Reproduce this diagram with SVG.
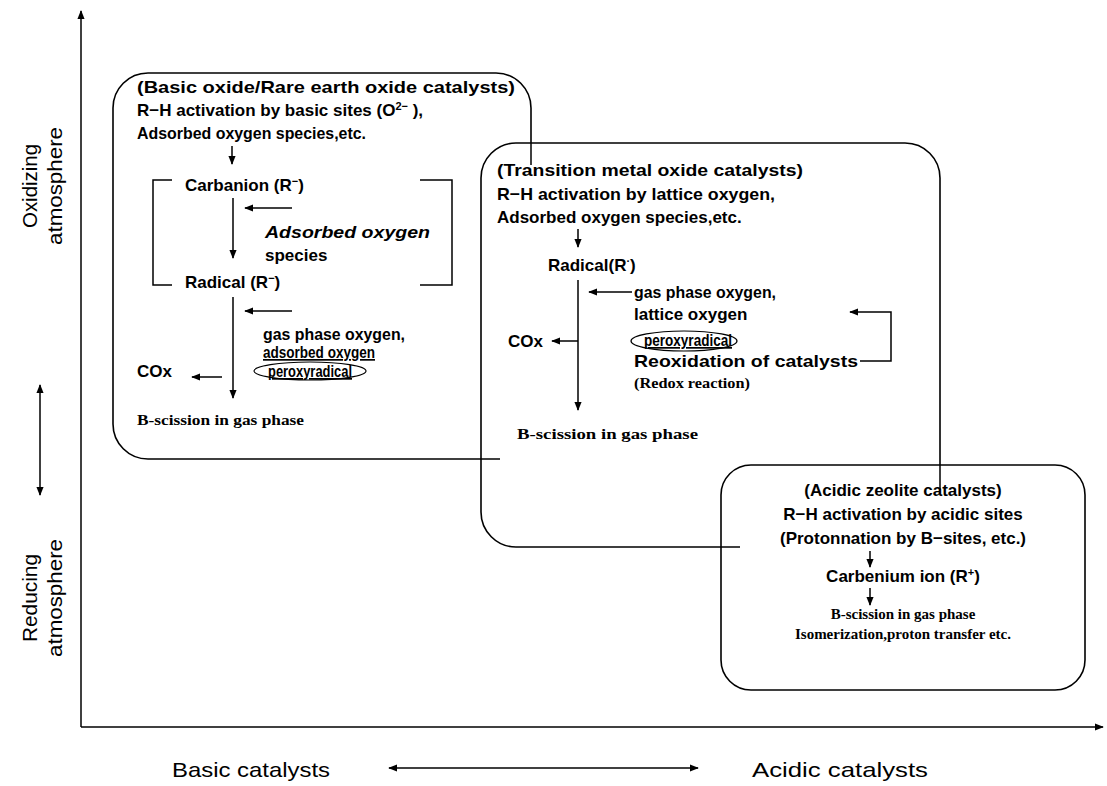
<svg xmlns="http://www.w3.org/2000/svg" width="1107" height="786" viewBox="0 0 1107 786">
<defs>
<marker id="ah" viewBox="0 0 10 10" refX="9" refY="5" markerWidth="9" markerHeight="9" markerUnits="userSpaceOnUse" orient="auto-start-reverse">
<path d="M0,1 L10,5 L0,9 Z" fill="#000"/>
</marker>
<style>
.box{fill:#fff;stroke:#000;stroke-width:1.6}
.ln{fill:none;stroke:#000;stroke-width:1.5}
.ar{fill:none;stroke:#000;stroke-width:1.5;marker-end:url(#ah)}
.t{font-family:"Liberation Sans",Arial,sans-serif;font-weight:bold;font-size:17px;fill:#000}
.i{font-style:italic}
.s{font-family:"Liberation Serif","Times New Roman",serif;font-weight:bold;font-size:15px;fill:#000}
.ax{font-family:"Liberation Sans",Arial,sans-serif;font-size:21px;fill:#000}
.el{fill:none;stroke:#000;stroke-width:1.2}
</style>
</defs>
<rect width="1107" height="786" fill="#fff"/>

<g id="axes">
<line class="ar" x1="81" y1="727" x2="81" y2="11"/>
<line class="ar" x1="81" y1="727" x2="1103" y2="727"/>
<line class="ar" x1="40" y1="440" x2="40" y2="385"/>
<line class="ar" x1="40" y1="440" x2="40" y2="495"/>
<line class="ar" x1="540" y1="768" x2="389" y2="768"/>
<line class="ar" x1="540" y1="768" x2="698" y2="768"/>
<text class="ax" transform="translate(37,186) rotate(-90)" text-anchor="middle" textLength="84" lengthAdjust="spacingAndGlyphs">Oxidizing</text>
<text class="ax" transform="translate(62,186) rotate(-90)" text-anchor="middle" textLength="118" lengthAdjust="spacingAndGlyphs">atmosphere</text>
<text class="ax" transform="translate(37,598) rotate(-90)" text-anchor="middle" textLength="88" lengthAdjust="spacingAndGlyphs">Reducing</text>
<text class="ax" transform="translate(62,598) rotate(-90)" text-anchor="middle" textLength="118" lengthAdjust="spacingAndGlyphs">atmosphere</text>
<text class="ax" x="172" y="777" textLength="158" lengthAdjust="spacingAndGlyphs">Basic catalysts</text>
<text class="ax" x="752" y="777" textLength="176" lengthAdjust="spacingAndGlyphs">Acidic catalysts</text>
</g>

<g id="basic">
<rect class="box" x="113" y="73" width="418" height="386" rx="35"/>
<text class="t" x="137" y="93" textLength="378" lengthAdjust="spacingAndGlyphs">(Basic oxide/Rare earth oxide catalysts)</text>
<text class="t" x="137" y="116">R−H activation by basic sites (O<tspan font-size="11" dy="-6">2−</tspan><tspan dy="6"> ),</tspan></text>
<text class="t" x="137" y="139" textLength="229" lengthAdjust="spacingAndGlyphs">Adsorbed  oxygen species,etc.</text>
<line class="ar" x1="232" y1="146" x2="232" y2="164"/>
<path class="ln" d="M172,180 H153 V285 H172"/>
<path class="ln" d="M420,180 H452 V285 H420"/>
<text class="t" x="185" y="191">Carbanion (R<tspan font-size="11" dy="-6">−</tspan><tspan dy="6">)</tspan></text>
<line class="ar" x1="233" y1="198" x2="233" y2="258"/>
<line class="ar" x1="292" y1="208" x2="245" y2="208"/>
<text class="t i" x="265" y="238" textLength="165" lengthAdjust="spacingAndGlyphs">Adsorbed oxygen</text>
<text class="t" x="265" y="261">species</text>
<text class="t" x="185" y="288">Radical (R<tspan font-size="11" dy="-6">−</tspan><tspan dy="6">)</tspan></text>
<line class="ar" x1="233" y1="297" x2="233" y2="398"/>
<line class="ar" x1="292" y1="311" x2="245" y2="311"/>
<text class="t" x="263" y="340" textLength="142" lengthAdjust="spacingAndGlyphs">gas phase oxygen,</text>
<text class="t" x="263" y="358" textLength="112" lengthAdjust="spacingAndGlyphs" text-decoration="underline">adsorbed oxygen</text>
<ellipse class="el" cx="310" cy="371" rx="56" ry="9"/>
<text class="t" x="268" y="377" font-size="15" textLength="84" lengthAdjust="spacingAndGlyphs" text-decoration="underline">peroxyradical</text>
<text class="t" x="137" y="377">COx</text>
<line class="ar" x1="222" y1="377" x2="192" y2="377"/>
<text class="s" x="137" y="425" textLength="167" lengthAdjust="spacingAndGlyphs">B-scission in gas phase</text>
</g>

<g id="transition">
<rect class="box" x="481" y="143" width="459" height="404" rx="35"/>
<text class="t" x="497" y="176" textLength="306" lengthAdjust="spacingAndGlyphs">(Transition metal oxide catalysts)</text>
<text class="t" x="497" y="200" textLength="278" lengthAdjust="spacingAndGlyphs">R−H activation by lattice oxygen,</text>
<text class="t" x="497" y="223">Adsorbed oxygen species,etc.</text>
<line class="ar" x1="578" y1="229" x2="578" y2="247"/>
<text class="t" x="548" y="271">Radical(R<tspan font-size="11" dy="-6">·</tspan><tspan dy="6">)</tspan></text>
<line class="ar" x1="578" y1="280" x2="578" y2="410"/>
<line class="ar" x1="632" y1="292" x2="589" y2="292"/>
<text class="t" x="634" y="298" textLength="142" lengthAdjust="spacingAndGlyphs">gas phase oxygen,</text>
<text class="t" x="634" y="320">lattice oxygen</text>
<ellipse class="el" cx="684" cy="341" rx="53" ry="10"/>
<text class="t" x="644" y="346" font-size="16" textLength="88" lengthAdjust="spacingAndGlyphs" text-decoration="underline">peroxyradical</text>
<text class="t" x="634" y="367" textLength="224" lengthAdjust="spacingAndGlyphs">Reoxidation of catalysts</text>
<path class="ln" d="M860,361 H891 V312 H850" marker-end="url(#ah)"/>
<text class="s" x="634" y="388" textLength="116" lengthAdjust="spacingAndGlyphs">(Redox reaction)</text>
<text class="t" x="508" y="347">COx</text>
<line class="ar" x1="578" y1="341" x2="552" y2="341"/>
<text class="s" x="517" y="439" textLength="181" lengthAdjust="spacingAndGlyphs">B-scission in gas phase</text>
</g>

<g id="overlaps">
<line class="ln" x1="531" y1="143" x2="531" y2="165"/>
<line class="ln" x1="481" y1="459" x2="500" y2="459"/>
</g>

<g id="acidic">
<rect class="box" x="721" y="465" width="364" height="225" rx="30"/>
<text class="t" x="903" y="496" text-anchor="middle">(Acidic zeolite catalysts)</text>
<text class="t" x="903" y="520" text-anchor="middle">R−H activation by acidic sites</text>
<text class="t" x="903" y="544" text-anchor="middle">(Protonnation by B−sites, etc.)</text>
<line class="ar" x1="870" y1="551" x2="870" y2="567"/>
<text class="t" x="903" y="582" text-anchor="middle">Carbenium ion  (R<tspan font-size="11" dy="-6">+</tspan><tspan dy="6">)</tspan></text>
<line class="ar" x1="870" y1="588" x2="870" y2="605"/>
<text class="s" x="903" y="619" text-anchor="middle">B-scission in gas phase</text>
<text class="s" x="903" y="639" text-anchor="middle">Isomerization,proton transfer etc.</text>
</g>

<g id="overlaps2">
<line class="ln" x1="940" y1="465" x2="940" y2="490"/>
<line class="ln" x1="721" y1="547" x2="740" y2="547"/>
</g>
</svg>
